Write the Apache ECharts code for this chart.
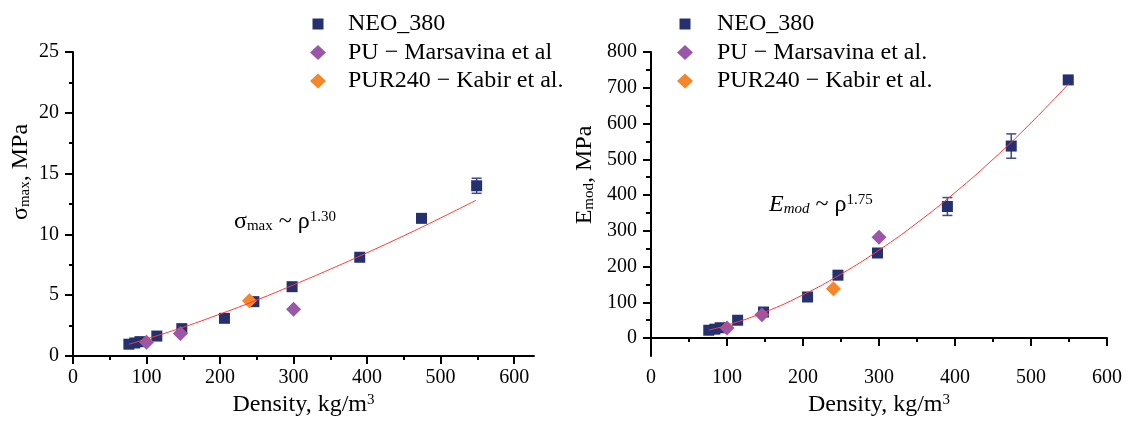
<!DOCTYPE html>
<html>
<head>
<meta charset="utf-8">
<script src="https://cdn.jsdelivr.net/npm/echarts@6/dist/echarts.min.js"></script>
<style>
html,body{margin:0;padding:0;background:#fff;}
#c{width:1129px;height:422px;}
</style>
</head>
<body>
<div id="c"></div>
<script>
// ---- data ----
const neoDensity = [76, 84, 91, 114, 148, 206, 246, 298, 390, 474, 549];
const neoSigma   = [0.97, 1.07, 1.18, 1.64, 2.25, 3.1, 4.47, 5.7, 8.12, 11.32, 14.0];
const neoSigmaErr = [0, 0, 0, 0, 0, 0, 0, 0, 0, 0.1, 0.62];
const neoE       = [22, 25, 29, 50, 73, 115, 176, 238, 368, 537, 722];
const neoEErr    = [0, 0, 0, 0, 0, 0, 0, 0, 25, 34, 5];

const puDensity = [100, 146, 300];
const puSigma   = [1.13, 1.86, 3.84];
const puE       = [28, 65, 282];

const kabirDensity = [240];
const kabirSigma   = [4.55];
const kabirE       = [138];

const fitSigmaX = [76, 100, 150, 200, 250, 300, 350, 400, 450, 500, 548];
const fitSigmaY = [0.97, 1.40, 2.37, 3.45, 4.6, 5.85, 7.14, 8.49, 9.89, 11.35, 12.8];
const fitEX = [76, 100, 150, 200, 250, 300, 350, 400, 450, 500, 550];
const fitEY = [22.5, 36, 73, 121, 179, 246, 322, 407, 500, 602, 712];

const xTicks = [0, 100, 200, 300, 400, 500, 600];
const xMinorTicks = [50, 150, 250, 350, 450, 550];
const eTicks = [0, 100, 200, 300, 400, 500, 600, 700, 800];
const eMinorTicks = [50, 150, 250, 350, 450, 550, 650, 750];

const nameNeo = 'NEO_380';
const namePuL = 'PU \u2212 Marsavina et al';
const namePuR = 'PU \u2212 Marsavina et al.';
const nameKabir = 'PUR240 \u2212 Kabir et al.';

// ---- styles ----
const FONT = '"Liberation Serif", "Times New Roman", serif';
const NAVY = '#243070';
const PURPLE = '#9a56a8';
const ORANGE = '#f5862a';
const RED = '#ff3a3a';
const ERRC = '#3d4b8c';

const zip = (a, b) => a.map((v, i) => [v, b[i]]);
const errData = (xs, ys, es) => xs.map((x, i) => [x, ys[i] - es[i], ys[i] + es[i], es[i]]).filter(d => d[3] > 0);

const axisLineStyle = { show: true, lineStyle: { color: '#000', width: 2 } };
const labelStyle = { color: '#000', fontFamily: FONT, fontSize: 20 };

function errorSeries(name, xi, yi, data) {
  return {
    type: 'custom', xAxisIndex: xi, yAxisIndex: yi, z: 1, silent: true,
    data: data,
    renderItem: function (params, api) {
      const x = api.value(0), lo = api.value(1), hi = api.value(2);
      const p1 = api.coord([x, hi]), p2 = api.coord([x, lo]);
      const w = 5;
      const st = { stroke: ERRC, lineWidth: 1.5 };
      return { type: 'group', children: [
        { type: 'line', shape: { x1: p1[0], y1: p1[1], x2: p2[0], y2: p2[1] }, style: st },
        { type: 'line', shape: { x1: p1[0] - w, y1: p1[1], x2: p1[0] + w, y2: p1[1] }, style: st },
        { type: 'line', shape: { x1: p2[0] - w, y1: p2[1], x2: p2[0] + w, y2: p2[1] }, style: st }
      ]};
    }
  };
}

// icon centred at iconCx, text starting at textX, row centred at centerY
function legendItem(name, iconCx, textX, centerY, w, h) {
  const left = iconCx - w / 2;
  return {
    show: true, orient: 'vertical', left: left, top: centerY - 12,
    itemWidth: w, itemHeight: h, padding: 0,
    data: [name], selectedMode: false,
    textStyle: { color: '#000', fontFamily: FONT, fontSize: 24, lineHeight: 24,
                 padding: [0, 0, 0, textX - (left + w + 5)] }
  };
}

const richName = {
  m: { fontFamily: FONT, fontSize: 24, lineHeight: 24, color: '#000' },
  s: { fontFamily: FONT, fontSize: 15, lineHeight: 8, verticalAlign: 'bottom', color: '#000' },
  p: { fontFamily: FONT, fontSize: 15, lineHeight: 8, verticalAlign: 'top', color: '#000' },
  i: { fontFamily: FONT, fontSize: 24, lineHeight: 24, fontStyle: 'italic', color: '#000' },
  is: { fontFamily: FONT, fontSize: 15, lineHeight: 8, verticalAlign: 'bottom', fontStyle: 'italic', color: '#000' }
};

const option = {
  animation: false,
  backgroundColor: '#fff',
  textStyle: { fontFamily: FONT },
  grid: [
    { left: 73, top: 52, width: 461, height: 304 },
    { left: 651, top: 52, width: 456, height: 304 }
  ],
  legend: [
    legendItem(nameNeo, 318, 348, 24, 11, 11),
    legendItem(namePuL, 318, 348, 52.5, 16, 15),
    legendItem(nameKabir, 318, 348, 81, 16, 15),
    legendItem(nameNeo, 685, 717, 24, 11, 11),
    legendItem(namePuR, 685, 717, 52.5, 16, 15),
    legendItem(nameKabir, 685, 717, 81, 16, 15)
  ],
  xAxis: [
    { gridIndex: 0, type: 'value', min: 0, max: 627, interval: 100, position: 'bottom',
      axisLine: axisLineStyle, splitLine: { show: false },
      axisTick: { show: true, length: 8, customValues: xTicks, lineStyle: { color: '#000', width: 2 } },
      axisLabel: Object.assign({ margin: 12, customValues: xTicks }, labelStyle),
      name: '{m|Density, kg/m}{p|3}', nameLocation: 'middle', nameGap: 30,
      nameTextStyle: { rich: richName } },
    { gridIndex: 0, type: 'value', min: 0, max: 627, interval: 100, position: 'bottom',
      axisLine: { show: false }, splitLine: { show: false }, axisLabel: { show: false },
      axisTick: { show: true, length: 4, customValues: xMinorTicks, lineStyle: { color: '#000', width: 2 } } },
    { gridIndex: 1, type: 'value', min: 0, max: 600, interval: 100, position: 'bottom',
      axisLine: axisLineStyle, splitLine: { show: false },
      axisTick: { show: true, length: 8, lineStyle: { color: '#000', width: 2 } },
      minorTick: { show: true, splitNumber: 2, length: 4, lineStyle: { color: '#000', width: 2 } },
      axisLabel: Object.assign({ margin: 12 }, labelStyle),
      name: '{m|Density, kg/m}{p|3}', nameLocation: 'middle', nameGap: 30,
      nameTextStyle: { rich: richName } }
  ],
  yAxis: [
    { gridIndex: 0, type: 'value', min: 0, max: 25, interval: 5, position: 'left',
      axisLine: axisLineStyle, splitLine: { show: false },
      axisTick: { show: true, length: 8, lineStyle: { color: '#000', width: 2 } },
      minorTick: { show: true, splitNumber: 2, length: 4, lineStyle: { color: '#000', width: 2 } },
      axisLabel: Object.assign({ margin: 14 }, labelStyle) },
    { gridIndex: 1, type: 'value', min: -50, max: 800, interval: 50, position: 'left',
      axisLine: axisLineStyle, splitLine: { show: false },
      axisTick: { show: true, length: 8, customValues: eTicks, lineStyle: { color: '#000', width: 2 } },
      axisLabel: Object.assign({ margin: 14, customValues: eTicks }, labelStyle) },
    { gridIndex: 1, type: 'value', min: -50, max: 800, interval: 50, position: 'left',
      axisLine: { show: false }, splitLine: { show: false }, axisLabel: { show: false },
      axisTick: { show: true, length: 5, customValues: eMinorTicks, lineStyle: { color: '#000', width: 2 } } }
  ],
  graphic: [
    { type: 'text', x: 21, y: 172, rotation: Math.PI / 2,
      style: { text: '{m|σ}{s|max}{m|, MPa}', rich: richName, align: 'center', verticalAlign: 'middle' } },
    { type: 'text', x: 585, y: 175, rotation: Math.PI / 2,
      style: { text: '{m|E}{s|mod}{m|, MPa}', rich: richName, align: 'center', verticalAlign: 'middle' } },
    { type: 'text', x: 234, y: 221.5,
      style: { text: '{m|σ}{s|max}{m| ~ ρ}{p|1.30}', rich: richName, align: 'left', verticalAlign: 'middle' } },
    { type: 'text', x: 769, y: 204.5,
      style: { text: '{i|E}{is|mod}{m| ~ ρ}{p|1.75}', rich: richName, align: 'left', verticalAlign: 'middle' } }
  ],
  series: [
    errorSeries('errL', 0, 0, errData(neoDensity, neoSigma, neoSigmaErr)),
    { name: nameNeo, type: 'scatter', xAxisIndex: 0, yAxisIndex: 0, symbol: 'rect', symbolSize: 11, z: 2,
      itemStyle: { color: NAVY, opacity: 1 }, data: zip(neoDensity, neoSigma) },
    { name: namePuL, type: 'scatter', xAxisIndex: 0, yAxisIndex: 0, symbol: 'diamond', symbolSize: [15, 15], z: 3,
      itemStyle: { color: PURPLE, opacity: 1 }, data: zip(puDensity, puSigma) },
    { name: nameKabir, type: 'scatter', xAxisIndex: 0, yAxisIndex: 0, symbol: 'diamond', symbolSize: [15, 15], z: 3,
      itemStyle: { color: ORANGE, opacity: 1 }, data: zip(kabirDensity, kabirSigma) },
    { name: 'fitL', type: 'line', xAxisIndex: 0, yAxisIndex: 0, smooth: true, showSymbol: false, symbol: 'none', z: 4,
      lineStyle: { color: RED, width: 1 }, data: zip(fitSigmaX, fitSigmaY) },

    errorSeries('errR', 2, 1, errData(neoDensity, neoE, neoEErr)),
    { name: nameNeo, type: 'scatter', xAxisIndex: 2, yAxisIndex: 1, symbol: 'rect', symbolSize: 11, z: 2,
      itemStyle: { color: NAVY, opacity: 1 }, data: zip(neoDensity, neoE) },
    { name: namePuR, type: 'scatter', xAxisIndex: 2, yAxisIndex: 1, symbol: 'diamond', symbolSize: [15, 15], z: 3,
      itemStyle: { color: PURPLE, opacity: 1 }, data: zip(puDensity, puE) },
    { name: nameKabir, type: 'scatter', xAxisIndex: 2, yAxisIndex: 1, symbol: 'diamond', symbolSize: [15, 15], z: 3,
      itemStyle: { color: ORANGE, opacity: 1 }, data: zip(kabirDensity, kabirE) },
    { name: 'fitR', type: 'line', xAxisIndex: 2, yAxisIndex: 1, smooth: true, showSymbol: false, symbol: 'none', z: 4,
      lineStyle: { color: RED, width: 1 }, data: zip(fitEX, fitEY) }
  ]
};

const chart = echarts.init(document.getElementById('c'), null, { renderer: 'canvas' });
chart.setOption(option);
</script>
</body>
</html>
